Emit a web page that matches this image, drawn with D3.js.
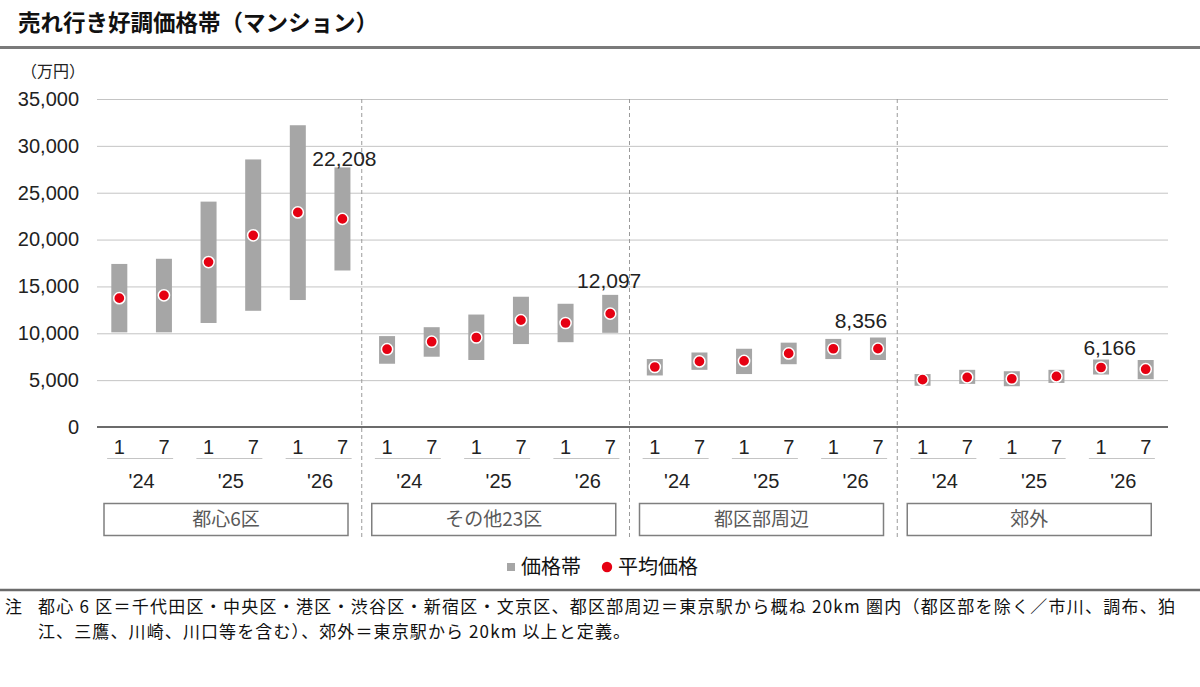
<!DOCTYPE html>
<html>
<head>
<meta charset="utf-8">
<script src="https://cdn.jsdelivr.net/npm/d3@7"></script>
<style>
  body { margin: 0; background: #fff; }
  svg { display: block; }
</style>
</head>
<body>
<svg id="chart" width="1200" height="687"></svg>
<script>
// ---- data (万円) ----
const areas = ["都心6区", "その他23区", "都区部周辺", "郊外"];
const years = ["'24", "'25", "'26"];
const months = ["1", "7"];

// price band low / high and average per half-year, 6 per area
const bandLow = [
  10100, 10100, 11100, 12400, 13550, 16700,
  6750, 7500, 7150, 8850, 9050, 10050,
  5500, 6100, 5650, 6700, 7250, 7150,
  4400, 4600, 4350, 4700, 5600, 5100
];
const bandHigh = [
  17400, 17950, 24050, 28550, 32200, 27700,
  9700, 10650, 12000, 13900, 13150, 14100,
  7250, 7950, 8350, 9000, 9400, 9550,
  5650, 6100, 5950, 6100, 7200, 7150
];
const avgPrice = [
  13750, 14050, 17600, 20450, 22900, 22208,
  8300, 9100, 9550, 11400, 11100, 12097,
  6400, 7000, 7050, 7850, 8350, 8356,
  5050, 5300, 5150, 5400, 6350, 6166
];
// the latest value in each area is labelled
const labelIndex = [5, 11, 17, 23];

const yTicks = [0, 5000, 10000, 15000, 20000, 25000, 30000, 35000];

const note1 = "都心 6 区＝千代田区・中央区・港区・渋谷区・新宿区・文京区、都区部周辺＝東京駅から概ね 20km 圏内（都区部を除く／市川、調布、狛";
const note2 = "江、三鷹、川崎、川口等を含む）、郊外＝東京駅から 20km 以上と定義。";

// ---- layout ----
const jp = "'Noto Sans CJK JP', sans-serif";
const num = "'Liberation Sans', Arial, sans-serif";
const plot = {left: 97, right: 1168, top: 99, bottom: 427};
const nPerArea = 6;

const svg = d3.select("#chart");

const idx = d3.range(avgPrice.length);
const x = d3.scaleBand()
    .domain(idx)
    .range([plot.left, plot.right]);

const y = d3.scaleLinear()
    .domain([0, 35000])
    .range([plot.bottom, plot.top]);

// title
svg.append("text")
    .attr("x", 18).attr("y", 31)
    .style("font-family", jp).style("font-size", "22.5px").style("font-weight", "bold")
    .attr("fill", "#111")
    .text("売れ行き好調価格帯（マンション）");

svg.append("line")
    .attr("x1", 0).attr("x2", 1200).attr("y1", 47.5).attr("y2", 47.5)
    .attr("stroke", "#7a7a7a").attr("stroke-width", 3);

// unit
svg.append("text")
    .attr("x", 21).attr("y", 77)
    .style("font-family", jp).style("font-size", "16px")
    .attr("fill", "#222")
    .text("（万円）");

// gridlines + y labels
let yAxis = d3.axisLeft(y).tickValues(yTicks)
    .tickSize(-(plot.right - plot.left))
    .tickPadding(18)
    .tickFormat(d3.format(","));

let gy = svg.append("g")
    .attr("transform", `translate(${plot.left},0)`)
    .call(yAxis);
gy.select(".domain").remove();
gy.selectAll(".tick line").attr("stroke", "#c4c4c4").attr("stroke-width", 1);
gy.selectAll(".tick text")
    .style("font-family", num).style("font-size", "20px")
    .attr("fill", "#222");

// group dividers
const bw = x.bandwidth();
d3.range(1, areas.length).forEach(g => {
    let xd = x(g * nPerArea) - 3;
    svg.append("line")
        .attr("x1", xd).attr("x2", xd)
        .attr("y1", plot.top).attr("y2", 537)
        .attr("stroke", "#9a9a9a").attr("stroke-width", 1)
        .attr("stroke-dasharray", "4,3");
});

// zero axis
svg.append("line")
    .attr("x1", plot.left).attr("x2", plot.right)
    .attr("y1", y(0)).attr("y2", y(0))
    .attr("stroke", "#6b6b6b").attr("stroke-width", 2);

// price bands
svg.append("g").selectAll("rect")
    .data(idx).enter()
    .append("rect")
    .attr("x", i => x(i) + bw / 2 - 8)
    .attr("width", 16)
    .attr("y", i => y(bandHigh[i]))
    .attr("height", i => y(bandLow[i]) - y(bandHigh[i]))
    .attr("fill", "#a6a6a6");

// average dots
svg.append("g").selectAll("circle")
    .data(idx).enter()
    .append("circle")
    .attr("cx", i => x(i) + bw / 2)
    .attr("cy", i => y(avgPrice[i]))
    .attr("r", 5.6)
    .attr("fill", "#e60012")
    .attr("stroke", "#fff")
    .attr("stroke-width", 1.5);

// value labels on the latest point of each area
const labelNudge = [[2, -1], [-1, -7], [-17, -10], [-36, -5]];
svg.append("g").selectAll("text")
    .data(labelIndex).enter()
    .append("text")
    .attr("x", (i, k) => x(i) + bw / 2 + labelNudge[k][0])
    .attr("y", (i, k) => y(bandHigh[i]) + labelNudge[k][1])
    .attr("text-anchor", "middle")
    .style("font-family", num).style("font-size", "21px")
    .attr("fill", "#222")
    .text(i => d3.format(",")(avgPrice[i]));

// x axis: months, years, areas
let gx = svg.append("g");
idx.forEach(i => {
    gx.append("text")
        .attr("x", x(i) + bw / 2)
        .attr("y", 454)
        .attr("text-anchor", "middle")
        .style("font-family", num).style("font-size", "20px")
        .attr("fill", "#222")
        .text(months[i % 2]);
});

d3.range(areas.length * years.length).forEach(p => {
    let mid = x(p * 2) + bw;
    gx.append("line")
        .attr("x1", mid - 34.5).attr("x2", mid + 31.5)
        .attr("y1", 458.5).attr("y2", 458.5)
        .attr("stroke", "#c4c4c4").attr("stroke-width", 1);
    gx.append("text")
        .attr("x", mid)
        .attr("y", 488)
        .attr("text-anchor", "middle")
        .style("font-family", num).style("font-size", "20px")
        .attr("fill", "#222")
        .text(years[p % years.length]);
});

areas.forEach((a, g) => {
    let x0 = x(g * nPerArea) + 7;
    gx.append("rect")
        .attr("x", x0).attr("y", 503.5)
        .attr("width", 244).attr("height", 32)
        .attr("fill", "none")
        .attr("stroke", "#7f7f7f").attr("stroke-width", 1.5);
    gx.append("text")
        .attr("x", x0 + 122).attr("y", 526)
        .attr("text-anchor", "middle")
        .style("font-family", jp).style("font-size", "19px")
        .attr("fill", "#595959")
        .text(a);
});

// legend
let lg = svg.append("g");
lg.append("rect")
    .attr("x", 507).attr("y", 563).attr("width", 8).attr("height", 8)
    .attr("fill", "#a6a6a6");
lg.append("text")
    .attr("x", 521).attr("y", 574)
    .style("font-family", jp).style("font-size", "20px")
    .attr("fill", "#111")
    .text("価格帯");
lg.append("circle")
    .attr("cx", 607).attr("cy", 567).attr("r", 5.2)
    .attr("fill", "#e60012");
lg.append("text")
    .attr("x", 618).attr("y", 574)
    .style("font-family", jp).style("font-size", "20px")
    .attr("fill", "#111")
    .text("平均価格");

// footnote
svg.append("line")
    .attr("x1", 0).attr("x2", 1200).attr("y1", 590).attr("y2", 590)
    .attr("stroke", "#6b6b6b").attr("stroke-width", 2.5);

let fn = svg.append("g")
    .style("font-family", jp).style("font-size", "17px")
    .attr("fill", "#111");
fn.append("text").attr("x", 5).attr("y", 613).text("注");
fn.append("text").attr("x", 38).attr("y", 613)
    .attr("textLength", 1137).attr("lengthAdjust", "spacing")
    .text(note1);
fn.append("text").attr("x", 38).attr("y", 638)
    .attr("textLength", 592).attr("lengthAdjust", "spacing")
    .text(note2);
</script>
</body>
</html>
